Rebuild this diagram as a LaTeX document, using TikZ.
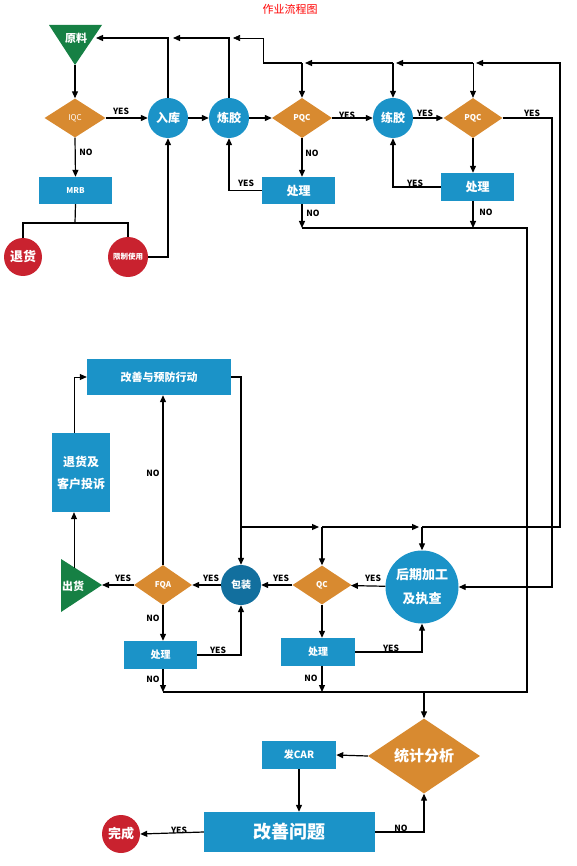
\documentclass[tikz,border=0pt]{standalone}
\usepackage{fontspec}
\setmainfont{Noto Sans CJK SC}
\usetikzlibrary{shapes.geometric,arrows.meta}
\definecolor{boxblue}{RGB}{27,147,200}
\definecolor{packblue}{RGB}{18,111,158}
\definecolor{qorange}{RGB}{216,138,48}
\definecolor{tgreen}{RGB}{22,128,68}
\definecolor{endred}{RGB}{201,34,47}
\tikzset{
  procbox/.style = {rectangle, fill=boxblue, text=white, inner sep=0pt, align=center, font=\bfseries\fontsize{10}{12}\selectfont},
  stepcirc/.style = {circle, fill=boxblue, text=white, inner sep=0pt, align=center, minimum size=40pt, font=\bfseries\fontsize{12}{12}\selectfont},
  check/.style = {diamond, aspect=1.5, fill=qorange, text=white, inner sep=0pt, minimum width=60pt, minimum height=40pt, font=\bfseries\fontsize{8}{9}\selectfont},
  stopcirc/.style = {circle, fill=endred, text=white, inner sep=0pt, minimum size=38pt, font=\bfseries\fontsize{13}{12}\selectfont},
  endtext/.style = {text=white, inner sep=0pt, font=\bfseries\fontsize{11}{12}\selectfont},
  flow/.style = {line width=1.2pt, -{Triangle[length=7pt,width=6pt]}},
  thinflow/.style = {line width=0.7pt, -{Triangle[length=7pt,width=6pt]}},
  wire/.style = {line width=1.2pt},
  answer/.style = {inner sep=0pt, font=\bfseries\fontsize{8.5}{9}\selectfont}
}
\begin{document}
\begin{tikzpicture}[x=1pt,y=-1pt]
\useasboundingbox (0,0) rectangle (577,866);
\node[text=red, font=\fontsize{11}{12}\selectfont] (title) at (290,9) {作业流程图};
% raw material and incoming check
\fill[tgreen] (49,25) -- (102,25) -- (75,65) -- cycle;
\node[endtext] (raw) at (76,38) {原料};
\coordinate (rawtip) at (75,65);
\coordinate (rawin) at (96,38);
\node[check, minimum width=61pt, minimum height=39pt, font=\fontsize{8}{9}\selectfont] (iqc) at (75,118) {IQC};
\node[stepcirc] (store) at (168,118) {入库};
\node[stepcirc] (mix1) at (229,118) {炼胶};
\node[check] (pqc1) at (302,118) {PQC};
\node[stepcirc] (mix2) at (393,118) {练胶};
\node[check, minimum width=59pt] (pqc2) at (473,118) {PQC};
\node[procbox, minimum width=73pt, minimum height=27pt, font=\bfseries\fontsize{8}{9}\selectfont] (mrb) at (75.5,190.5) {MRB};
\node[procbox, minimum width=73pt, minimum height=27pt, font=\bfseries\fontsize{12}{12}\selectfont] (fix1) at (298.5,190.5) {处理};
\node[procbox, minimum width=73pt, minimum height=28pt, font=\bfseries\fontsize{12}{12}\selectfont] (fix2) at (477.5,187) {处理};
\node[stopcirc] (ret) at (23,257) {退货};
\node[stopcirc, minimum size=40pt, font=\bfseries\fontsize{7.5}{9}\selectfont] (lim) at (128,257) {限制使用};
% shipping part
\node[procbox, minimum width=144pt, minimum height=36pt, font=\bfseries\fontsize{11}{12}\selectfont] (improve) at (159,377) {改善与预防行动};
\node[procbox, minimum width=58pt, minimum height=79pt, font=\bfseries\fontsize{12}{22}\selectfont] (complain) at (81,472.5) {退货及\\客户投诉};
\fill[tgreen] (61,559) -- (61,612) -- (102,585) -- cycle;
\node[endtext] (ship) at (73,586) {出货};
\coordinate (shipin) at (102,585);
\coordinate (shiptop) at (74,568);
\node[check, minimum width=58pt] (fqa) at (163,585) {FQA};
\node[stepcirc, fill=packblue, font=\bfseries\fontsize{10}{12}\selectfont] (pack) at (241,585) {包装};
\node[check, minimum width=59pt, minimum height=39pt] (qc) at (322,585) {QC};
\node[stepcirc, minimum size=73pt, font=\bfseries\fontsize{13}{24}\selectfont] (post) at (422,587) {后期加工\\及执查};
\node[procbox, minimum width=73pt, minimum height=28pt] (fix3) at (160.5,655) {处理};
\node[procbox, minimum width=74pt, minimum height=28pt] (fix4) at (318,652) {处理};
% analysis
\node[check, minimum width=112pt, minimum height=75pt, font=\bfseries\fontsize{15}{16}\selectfont] (stat) at (424,756) {统计分析};
\node[procbox, minimum width=74pt, minimum height=28pt] (car) at (299,755) {发CAR};
\node[procbox, minimum width=171pt, minimum height=40pt, font=\bfseries\fontsize{18}{20}\selectfont] (solve) at (289.5,832) {改善问题};
\node[stopcirc] (done) at (121,834) {完成};
% junctions
\coordinate (j1) at (173,38);
\coordinate (jm) at (75,223);
\coordinate (jy) at (552,587);
\coordinate (jn1) at (302,228);
\coordinate (jn2) at (473,228);
\coordinate (jn3) at (527,228);
\coordinate (jn4) at (527,692);
\coordinate (jn5) at (163,692);
\coordinate (jn6) at (322,692);
\coordinate (jn7) at (424,692);
\coordinate (ja) at (241,527);
\coordinate (jb) at (322,527);
\coordinate (jc) at (422,527);
\coordinate (jd) at (560,527);
\coordinate (je) at (560,63);
\coordinate (jf) at (473,63);
\coordinate (jg) at (393,63);
\coordinate (jh) at (302,63);
\coordinate (ji) at (263,63);
\coordinate (jj) at (263,38);
\coordinate (jk) at (229,38);
% top row
\draw[flow] (rawtip) -- (iqc.north);
\draw[flow] (iqc) -- (store);
\draw[flow] (store) -- (mix1);
\draw[flow] (mix1) -- (pqc1);
\draw[flow] (pqc1) -- (mix2);
\draw[flow] (mix2) -- (pqc2);
\draw[flow] (store.north) |- (rawin);
\draw[flow] (mix1.north) |- (j1);
\draw[wire] (jh) -- (ji);
\draw[thinflow, shorten >=4pt] (ji) -- (jj) -- (jk);
\draw[flow] (iqc.south) -- (mrb.north);
\draw[wire] (mrb.south) -- (jm);
\draw[wire] (ret.north) |- (jm) -| (lim.north);
\draw[flow] (lim.east) -| (store.south);
\draw[flow] (pqc1.south) -- (pqc1.south |- fix1.north);
\draw[flow] (fix1.west) -| (mix1.south);
\draw[flow] (pqc2.south) -- (pqc2.south |- fix2.north);
\draw[flow] (fix2.west) -| (mix2.south);
\draw[flow] (pqc2.east) -| (jy) -- (post.east);
% NO line
\draw[flow] (pqc1.south |- fix1.south) -- (jn1);
\draw[flow] (pqc2.south |- fix2.south) -- (jn2);
\draw[wire] (jn1) -- (jn3) -- (jn4) -- (jn5);
\draw[flow] (fqa.south |- fix3.south) -- (jn5);
\draw[flow] (qc.south |- fix4.south) -- (jn6);
\draw[flow] (jn7) -- (stat.north);
% loop back from improvement
\draw[flow] (improve.east) -| (pack.north);
\draw[flow, shorten >=3pt] (ja) -- (jb);
\draw[flow, shorten >=3pt] (jb) -- (jc);
\draw[flow, shorten >=3pt] (jc) -- (jd) -- (je) -- (jf);
\draw[flow, shorten >=3pt] (jf) -- (jg);
\draw[flow, shorten >=3pt] (jg) -- (jh);
\draw[flow] (jb) -- (qc.north);
\draw[flow] (jc) -- (post.north);
\draw[flow] (jh) -- (pqc1.north);
\draw[flow] (jg) -- (mix2.north);
\draw[thinflow] (jf) -- (pqc2.north);
% shipping row
\draw[flow] (post) -- (qc);
\draw[flow] (qc) -- (pack);
\draw[flow] (pack) -- (fqa);
\draw[flow] (fqa.west) -- (shipin);
\draw[flow] (fqa.north) -- (fqa.north |- improve.south);
\draw[flow] (fqa.south) -- (fqa.south |- fix3.north);
\draw[flow] (qc.south) -- (qc.south |- fix4.north);
\draw[flow] (fix3.east) -| (pack.south);
\draw[flow] (fix4.east) -| (post.south);
\draw[thinflow] (shiptop) -- (shiptop |- complain.south);
\draw[thinflow] (shiptop |- complain.north) |- (improve.west);
% analysis
\draw[flow] (stat.west) -- (car.east);
\draw[flow] (car.south) -- (car.south |- solve.north);
\draw[flow] (solve.west) -- (done.east);
\draw[flow] (solve.east) -| (stat.south);
% answers
\node[answer] (a1) at (121,111) {YES};
\node[answer] (a2) at (86,152) {NO};
\node[answer] (a3) at (347,115) {YES};
\node[answer] (a4) at (312,153) {NO};
\node[answer] (a5) at (425,113) {YES};
\node[answer] (a6) at (532,113) {YES};
\node[answer] (a7) at (246,183) {YES};
\node[answer] (a8) at (415,183) {YES};
\node[answer] (a9) at (313,213) {NO};
\node[answer] (a10) at (486,212) {NO};
\node[answer] (a11) at (123,578) {YES};
\node[answer] (a12) at (211,578) {YES};
\node[answer] (a13) at (281,578) {YES};
\node[answer] (a14) at (373,578) {YES};
\node[answer] (a15) at (153,473) {NO};
\node[answer] (a16) at (153,618) {NO};
\node[answer] (a17) at (218,650) {YES};
\node[answer] (a18) at (153,679) {NO};
\node[answer] (a19) at (391,648) {YES};
\node[answer] (a20) at (311,678) {NO};
\node[answer] (a21) at (179,830) {YES};
\node[answer] (a22) at (401,828) {NO};
\end{tikzpicture}
\end{document}
